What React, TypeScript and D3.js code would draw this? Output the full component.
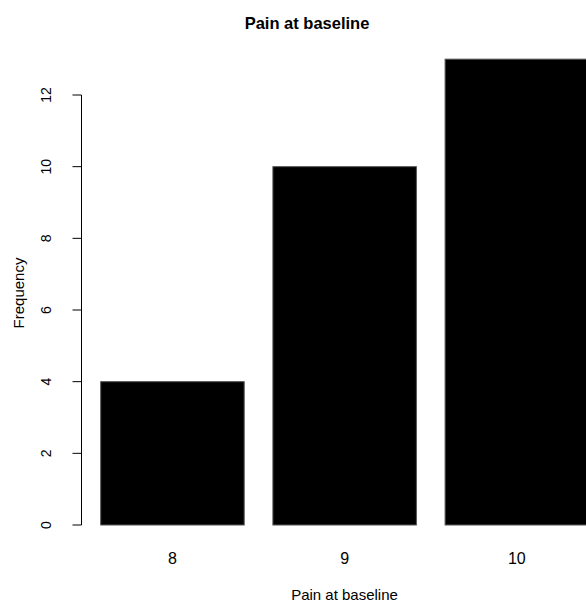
import React from "react";
import * as d3 from "d3";

const categories = ["8", "9", "10"];
const frequencies = [4, 10, 13];
const yTicks = [0, 2, 4, 6, 8, 10, 12];

const W = 586;
const H = 602;
const FONT = "'Liberation Sans', Arial, Helvetica, sans-serif";

export default function App() {
  const x = d3
    .scaleBand<string>()
    .domain(categories)
    .range([100.7, 588.6])
    .paddingInner(1 / 6)
    .paddingOuter(0);
  const y = d3.scaleLinear().domain([0, 12]).range([525, 95]);
  const axisX = 81.5;

  return (
    <svg
      width={W}
      height={H}
      style={{ position: "absolute", left: 0, top: 0, background: "#fff" }}
      fontFamily={FONT}
    >
      <rect x={0} y={0} width={W} height={H} fill="#fff" />
      <text x={307} y={29} textAnchor="middle" fontSize={16.5} fontWeight="bold" fill="#000">
        Pain at baseline
      </text>
      {categories.map((c, i) => (
        <rect
          key={c}
          x={x(c)!}
          y={y(frequencies[i])}
          width={x.bandwidth()}
          height={y(0) - y(frequencies[i])}
          fill="#000"
          stroke="#555"
          strokeWidth={1}
        />
      ))}
      <line x1={axisX} x2={axisX} y1={y(0)} y2={y(12)} stroke="#000" strokeWidth={1} />
      {yTicks.map((t) => (
        <g key={t}>
          <line x1={axisX - 9} x2={axisX} y1={y(t)} y2={y(t)} stroke="#000" strokeWidth={1} />
          <text
            transform={`translate(50.5,${y(t)}) rotate(-90)`}
            textAnchor="middle"
            fontSize={14}
            fill="#000"
          >
            {t}
          </text>
        </g>
      ))}
      {categories.map((c) => (
        <text
          key={c}
          x={x(c)! + x.bandwidth() / 2}
          y={563.5}
          textAnchor="middle"
          fontSize={16}
          fill="#000"
        >
          {c}
        </text>
      ))}
      <text x={344.5} y={600} textAnchor="middle" fontSize={15} fill="#000">
        Pain at baseline
      </text>
      <text
        transform={`translate(23.5,293) rotate(-90)`}
        textAnchor="middle"
        fontSize={15}
        fill="#000"
      >
        Frequency
      </text>
    </svg>
  );
}
